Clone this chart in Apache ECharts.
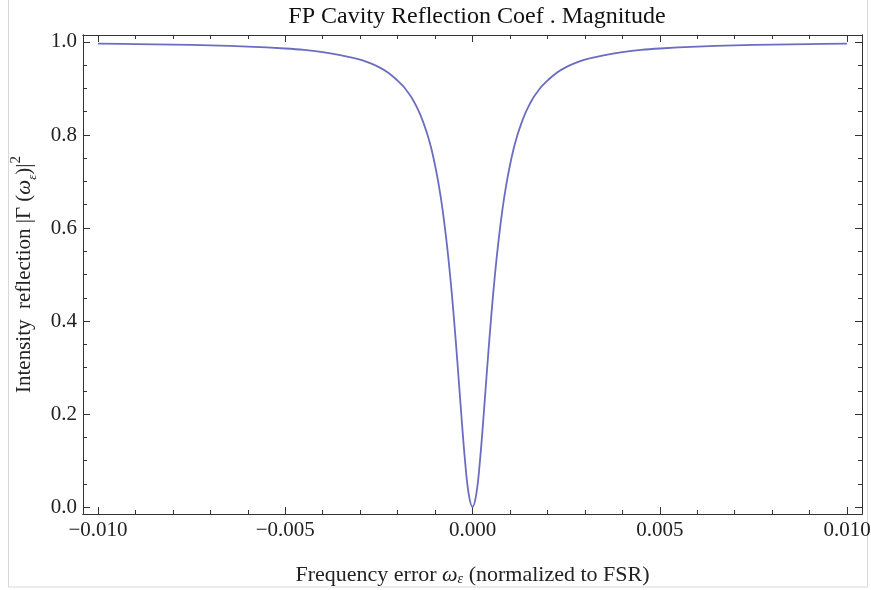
<!DOCTYPE html>
<html>
<head>
<meta charset="utf-8">
<script src="https://cdn.jsdelivr.net/npm/echarts@6/dist/echarts.min.js"></script>
<style>
html,body{margin:0;padding:0;background:#fff;}
#c{width:871px;height:590px;}
</style>
</head>
<body>
<div id="c"></div>
<script>
// Frequency error (normalized to FSR)
var freqError = [-0.010,-0.009,-0.008,-0.007,-0.006,-0.005,-0.0045,-0.004,-0.0035,-0.003,-0.00275,-0.0025,-0.00225,-0.002,-0.0019,-0.0018,-0.0017,-0.0016,-0.0015,-0.0014,-0.0013,-0.0012,-0.0011,-0.001,-0.0009,-0.0008,-0.0007,-0.0006,-0.0005,-0.0004,-0.0003,-0.0002,-0.0001,0,
  0.0001,0.0002,0.0003,0.0004,0.0005,0.0006,0.0007,0.0008,0.0009,0.001,0.0011,0.0012,0.0013,0.0014,0.0015,0.0016,0.0017,0.0018,0.0019,0.002,0.00225,0.0025,0.00275,0.003,0.0035,0.004,0.0045,0.005,0.006,0.007,0.008,0.009,0.010];
// Intensity reflection |Γ|^2
var reflection = [0.9965,0.9955,0.9943,0.9927,0.990,0.986,0.983,0.978,0.971,0.962,0.955,0.946,0.934,0.917,0.909,0.900,0.889,0.877,0.862,0.845,0.824,0.800,0.771,0.735,0.692,0.640,0.576,0.500,0.410,0.308,0.200,0.100,0.027,0.000,
  0.027,0.100,0.200,0.308,0.410,0.500,0.576,0.640,0.692,0.735,0.771,0.800,0.824,0.845,0.862,0.877,0.889,0.900,0.909,0.917,0.934,0.946,0.955,0.962,0.971,0.978,0.983,0.986,0.990,0.9927,0.9943,0.9955,0.9965];
var xMajorTicks = [-0.010,-0.005,0.000,0.005,0.010];
var xMinorTicks = [-0.010,-0.009,-0.008,-0.007,-0.006,-0.005,-0.004,-0.003,-0.002,-0.001,0,0.001,0.002,0.003,0.004,0.005,0.006,0.007,0.008,0.009,0.010];
var yMajorTicks = [0.0,0.2,0.4,0.6,0.8,1.0];
var yMinorTicks = [0,0.05,0.1,0.15,0.2,0.25,0.3,0.35,0.4,0.45,0.5,0.55,0.6,0.65,0.7,0.75,0.8,0.85,0.9,0.95,1.0];

var serif = '"Liberation Serif","DejaVu Serif",serif';
var X_MIN = -0.0104, X_MAX = 0.0104, Y_MIN = -0.015, Y_MAX = 1.015;
var lineC = '#333';
var txtC = '#222';

function xAx(pos, ticks, len, labels) {
  return {
    type: 'value', position: pos, min: X_MIN, max: X_MAX,
    axisLine: {show: true, onZero: false, lineStyle: {color: lineC, width: 1}},
    axisTick: {show: true, inside: true, length: len, customValues: ticks, lineStyle: {color: lineC, width: 1}},
    axisLabel: labels ? {show: true, customValues: ticks, margin: 6, color: txtC, fontFamily: serif, fontSize: 21,
      formatter: function(v){ var s = Math.abs(v) < 1e-12 ? '0.000' : v.toFixed(3); return s.replace('-', '\u2212'); }} : {show: false},
    splitLine: {show: false}
  };
}
function yAx(pos, ticks, len, labels) {
  return {
    type: 'value', position: pos, min: Y_MIN, max: Y_MAX,
    axisLine: {show: true, onZero: false, lineStyle: {color: lineC, width: 1}},
    axisTick: {show: true, inside: true, length: len, customValues: ticks, lineStyle: {color: lineC, width: 1}},
    axisLabel: labels ? {show: true, customValues: ticks, margin: 6, color: txtC, fontFamily: serif, fontSize: 21,
      formatter: function(v){ return (Math.abs(v) < 1e-12 ? 0 : v).toFixed(1); }} : {show: false},
    splitLine: {show: false}
  };
}

var xAxes = [xAx('bottom', xMajorTicks, 7, true), xAx('bottom', xMinorTicks, 4, false), xAx('top', xMajorTicks, 7, false), xAx('top', xMinorTicks, 4, false)];
var yAxes = [yAx('left', yMajorTicks, 7, true), yAx('left', yMinorTicks, 4, false), yAx('right', yMajorTicks, 7, false), yAx('right', yMinorTicks, 4, false)];

xAxes[0].name = 'Frequency error {i|\u03c9}{sub|\u03b5} (normalized to FSR)';
xAxes[0].nameLocation = 'middle';
xAxes[0].nameGap = 50;
xAxes[0].nameTextStyle = {fontFamily: serif, fontSize: 22, color: txtC,
  rich: {i: {fontFamily: serif, fontStyle: 'italic', fontSize: 22, color: txtC},
         sub: {fontFamily: serif, fontStyle: 'italic', fontSize: 14, color: txtC, verticalAlign: 'bottom', lineHeight: 18}}};

yAxes[0].name = 'Intensity  reflection |\u0393 ({i|\u03c9}{sub|\u03b5})|{sup|2}';
yAxes[0].nameLocation = 'middle';
yAxes[0].nameGap = 44;
yAxes[0].nameTextStyle = {fontFamily: serif, fontSize: 21, color: txtC,
  rich: {i: {fontFamily: serif, fontStyle: 'italic', fontSize: 21, color: txtC},
         sub: {fontFamily: serif, fontStyle: 'italic', fontSize: 13, color: txtC, verticalAlign: 'bottom', lineHeight: 17},
         sup: {fontFamily: serif, fontSize: 15, color: txtC, verticalAlign: 'top', lineHeight: 30}}};

var data = freqError.map(function(x, i){ return [x, reflection[i]]; });

var chart = echarts.init(document.getElementById('c'), null, {renderer: 'canvas'});
chart.setOption({
  backgroundColor: '#fff',
  animation: false,
  title: {text: 'FP Cavity Reflection Coef . Magnitude', left: 472, textAlign: 'center', top: 0,
    textStyle: {fontFamily: serif, fontSize: 24, fontWeight: 'normal', color: '#111'}},
  grid: {left: 83, right: 9, top: 35, bottom: 76, containLabel: false, outerBoundsMode: 'none'},
  xAxis: xAxes,
  yAxis: yAxes,
  graphic: [{type: 'rect', silent: true, z: -1, shape: {x: 8.5, y: -1, width: 859, height: 588},
    style: {fill: 'none', stroke: '#d8d8d8', lineWidth: 1}}],
  series: [{type: 'line', xAxisIndex: 0, yAxisIndex: 0, data: data, showSymbol: false, smooth: 0.4,
    lineStyle: {color: '#6b6dc0', width: 1.8}, clip: true}]
});
</script>
</body>
</html>
